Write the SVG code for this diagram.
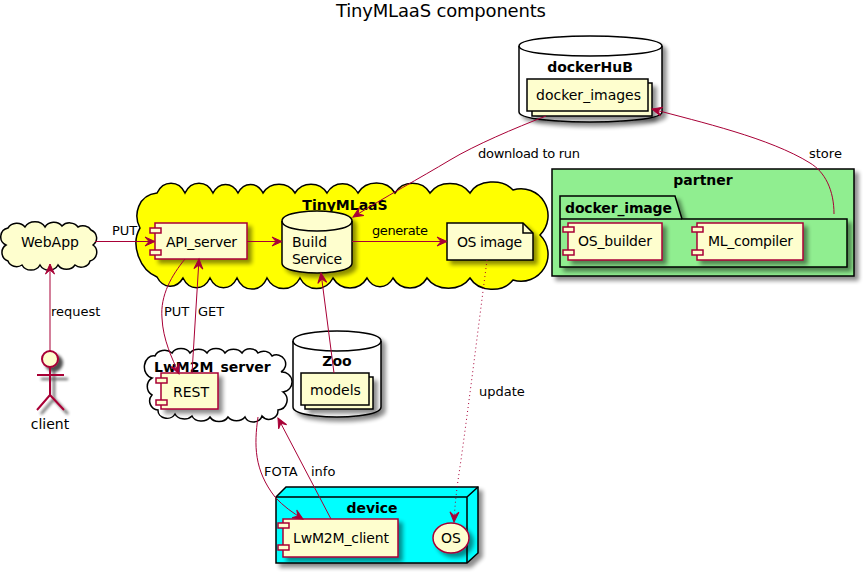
<svg xmlns="http://www.w3.org/2000/svg" width="867" height="574" viewBox="0 0 867 574">
<style>
text{font-family:"DejaVu Sans",sans-serif;font-size:13px;fill:#000}
.n{font-size:14px}
.b{font-size:14px;font-weight:bold}
.m{text-anchor:middle}
.c{fill:#FEFECE;stroke:#000;stroke-width:1.5}
.r{fill:#FEFECE;stroke:#A80036;stroke-width:1.5}
.o{fill:none;stroke:#000;stroke-width:1.5}
.l{fill:none;stroke:#A80036;stroke-width:1;marker-end:url(#h)}
.s{filter:url(#sh)}
</style>
<defs>
<filter id="sh" x="-20%" y="-20%" width="150%" height="150%"><feGaussianBlur in="SourceAlpha" stdDeviation="2"/><feOffset dx="4" dy="4"/><feComponentTransfer><feFuncA type="linear" slope="0.45"/></feComponentTransfer><feMerge><feMergeNode/><feMergeNode in="SourceGraphic"/></feMerge></filter>
<filter id="sa" x="-30%" y="-20%" width="170%" height="150%"><feGaussianBlur in="SourceAlpha" stdDeviation="1.500"/><feOffset dx="4" dy="4"/><feComponentTransfer><feFuncA type="linear" slope="0.7"/></feComponentTransfer><feMerge><feMergeNode/><feMergeNode in="SourceGraphic"/></feMerge></filter>
<marker id="h" markerUnits="userSpaceOnUse" markerWidth="13" markerHeight="12" viewBox="-1 -6 13 12" refX="10" refY="0" orient="auto"><path d="M0,-4.500L10,0L0,4.500L4,0Z" fill="#A80036" stroke="#A80036"/></marker>
<g id="comp"><rect x="-5" y="4" width="11" height="5" class="r"/></g>
</defs>
<rect width="867" height="574" fill="#fff"/>
<text x="336" y="17" style="font-size:18px" textLength="210">TinyMLaaS components</text>

<g id="dockerHuB">
<path class="s" d="M519,46C519,36 590,36 590,36C590,36 662,36 662,46L662,112C662,122 590,122 590,122C590,122 519,122 519,112Z" fill="#fff" stroke="#000" stroke-width="1.500"/>
<path class="o" d="M519,46C519,56 590,56 590,56C590,56 662,56 662,46"/>
<text x="590" y="72" class="b m">dockerHuB</text>
<g id="docker_images">
<rect x="532" y="83" width="120" height="33" class="c s"/>
<rect x="527" y="79" width="121" height="32" class="c"/>
<text x="536" y="100" class="n">docker_images</text>
</g>
</g>

<g id="partner">
<rect x="552" y="169" width="302" height="107" fill="#90EE90" stroke="#000" stroke-width="1.500" class="s"/>
<text x="703" y="185" class="b m">partner</text>
<g id="docker_image">
<path class="s" d="M560,219V196H675L682,219H847V267H560Z" fill="#90EE90" stroke="#000" stroke-width="1.500"/>
<path class="o" d="M560,219H682"/>
<text x="565" y="213" class="b" textLength="107">docker_image</text>
<g id="OS_builder">
<rect x="568" y="223" width="94" height="37" class="r s"/>
<use href="#comp" x="568" y="223"/><use href="#comp" x="568" y="246"/>
<text x="578" y="246" class="n" textLength="74">OS_builder</text>
</g>
<g id="ML_compiler">
<rect x="697" y="223" width="106" height="37" class="r s"/>
<use href="#comp" x="697" y="223"/><use href="#comp" x="697" y="246"/>
<text x="708" y="246" class="n" textLength="85">ML_compiler</text>
</g>
</g>
</g>

<g id="TinyMLaaS">
<path fill="#FFFF00" stroke="#000" stroke-width="1.500" d="M157,193A16 19 0 0 1 185,193A16 19 0 0 1 213,193A15 19 0 0 1 238,193A15 19 0 0 1 263,193A19 19 0 0 1 295,193A19 19 0 0 1 327,193A18 19 0 0 1 358,193A21 19 0 0 1 395,193A20 19 0 0 1 430,193A23 19 0 0 1 470,193A25 19 0 0 1 513,190A27 27 0 0 1 540,235A27 27 0 0 1 513,280A25 21 0 0 1 470,278A25 21 0 0 1 427,278A20 21 0 0 1 393,278A16 21 0 0 1 367,278A20 21 0 0 1 333,278A19 21 0 0 1 300,278A19 21 0 0 1 267,278A17 21 0 0 1 237,278A16 21 0 0 1 210,278A16 21 0 0 1 183,278A16 21 0 0 1 157,277C140,270 130,245 140,228C133,215 138,195 157,193Z"/>
<text x="345" y="210" class="b m">TinyMLaaS</text>
<g id="API_server">
<rect x="155" y="223" width="92" height="36" class="r s"/>
<use href="#comp" x="155" y="224"/><use href="#comp" x="155" y="246"/>
<text x="166" y="247" class="n" textLength="71">API_server</text>
</g>
<g id="Build_Service">
<path class="c s" d="M282,221C282,211 317,211 317,211C317,211 352,211 352,221L352,263C352,273 317,273 317,273C317,273 282,273 282,263Z"/>
<path class="o" d="M282,221C282,231 317,231 317,231C317,231 352,231 352,221"/>
<text x="292" y="247" class="n">Build</text>
<text x="292" y="264" class="n" textLength="50">Service</text>
</g>
<g id="OS_image">
<path class="c s" d="M447,223H523L533,233V260H447Z"/>
<path class="o" d="M523,223V233H533"/>
<text x="457" y="247" class="n" textLength="65">OS image</text>
</g>
</g>

<g id="WebApp">
<path class="c" d="M8,228A10 9 0 0 1 25,227A11 9 0 0 1 45,227A10 9 0 0 1 62,226A10 9 0 0 1 78,227A9 8 0 0 1 91,230A10 9 0 0 1 93,245A9 9 0 0 1 90,261A9 8 0 0 1 75,265A10 9 0 0 1 58,265A10 9 0 0 1 40,265A10 9 0 0 1 22,265A9 8 0 0 1 8,261A9 9 0 0 1 6,245A9 9 0 0 1 8,228Z"/>
<text x="50" y="247" class="n m">WebApp</text>
</g>

<g id="client">
<g filter="url(#sa)" fill="none" stroke="#A80036" stroke-width="2">
<circle cx="50" cy="359" r="8" fill="#FEFECE"/>
<path d="M50,367V395M37,375H64M50,395L37,410M50,395L64,410"/>
</g>
<text x="50" y="429" class="n m">client</text>
</g>

<g id="LwM2M_server">
<path fill="#fff" stroke="#000" stroke-width="1.500" d="M155,356A10 8 0 0 1 172,353A10 8 0 0 1 190,353A10 8 0 0 1 207,353A10 8 0 0 1 225,353A10 8 0 0 1 242,353A9 8 0 0 1 258,353A9 8 0 0 1 272,356A9 9 0 0 1 281,372A10 10 0 0 1 283,392A10 10 0 0 1 278,410A9 9 0 0 1 262,416A9 8 0 0 1 245,417A10 8 0 0 1 228,417A10 8 0 0 1 210,417A10 8 0 0 1 192,416A10 8 0 0 1 175,414A9 8 0 0 1 158,410A9 9 0 0 1 152,395A10 10 0 0 1 152,378A9 11 0 0 1 155,356Z"/>
<text x="154" y="372" class="b" style="word-spacing:2.100px">LwM2M server</text>
<g id="REST">
<rect x="161" y="373" width="57" height="36" class="r s"/>
<use href="#comp" x="161" y="374"/><use href="#comp" x="161" y="396"/>
<text x="173" y="397" class="n">REST</text>
</g>
</g>

<g id="Zoo">
<path class="s" d="M293,341C293,331 337,331 337,331C337,331 381,331 381,341L381,407C381,417 337,417 337,417C337,417 293,417 293,407Z" fill="#fff" stroke="#000" stroke-width="1.500"/>
<path class="o" d="M293,341C293,351 337,351 337,351C337,351 381,351 381,341"/>
<text x="337" y="366" class="b m">Zoo</text>
<g id="models">
<rect x="305" y="377" width="68" height="32" class="c s"/>
<rect x="301" y="373" width="68" height="32" class="c"/>
<text x="310" y="395" class="n">models</text>
</g>
</g>

<g id="device">
<path class="s" d="M276,497L286,487H478V553L467,563H276Z" fill="#00FFFF" stroke="#000" stroke-width="1.500"/>
<path class="o" d="M276,497H467V563M467,497L478,487"/>
<text x="372" y="513" class="b m">device</text>
<g id="LwM2M_client">
<rect x="283" y="519" width="115" height="38" class="r s"/>
<use href="#comp" x="283" y="519"/><use href="#comp" x="283" y="541"/>
<text x="293" y="543" class="n" textLength="96">LwM2M_client</text>
</g>
<g id="OS">
<ellipse cx="451" cy="538" rx="18" ry="15" class="r s"/>
<text x="451" y="543" class="n m">OS</text>
</g>
</g>

<g id="connectors">
<path class="l" d="M95,241.500H155"/>
<path class="l" d="M50,351V264"/>
<path class="l" d="M247,241.500H282"/>
<path class="l" d="M352,241.500H447"/>
<path class="l" d="M185,259C172,275 160,295 162,318C163,340 172,358 179,374"/>
<path class="l" d="M192,373L199,259"/>
<path class="l" d="M334,373L321,273"/>
<path class="l" d="M546,116C515,128 475,145 450,160C420,178 385,197 353,217"/>
<path class="l" d="M834,214C834,190 825,172 810,163C770,138 700,122 652,109"/>
<path class="l" stroke-dasharray="1,3" d="M487,260C478,330 470,395 461,460C458,480 455,500 454,522"/>
<path class="l" d="M258,417C254,445 254,470 275,497C283,506 293,513 303,519"/>
<path class="l" d="M331,519L278,418"/>
<text x="112" y="235">PUT</text>
<text x="51" y="316">request</text>
<text x="164" y="316">PUT</text>
<text x="198" y="316">GET</text>
<text x="372" y="235" textLength="56">generate</text>
<text x="478" y="158" textLength="102">download to run</text>
<text x="809" y="158">store</text>
<text x="479" y="396">update</text>
<text x="264" y="476">FOTA</text>
<text x="311" y="476">info</text>
</g>
</svg>
